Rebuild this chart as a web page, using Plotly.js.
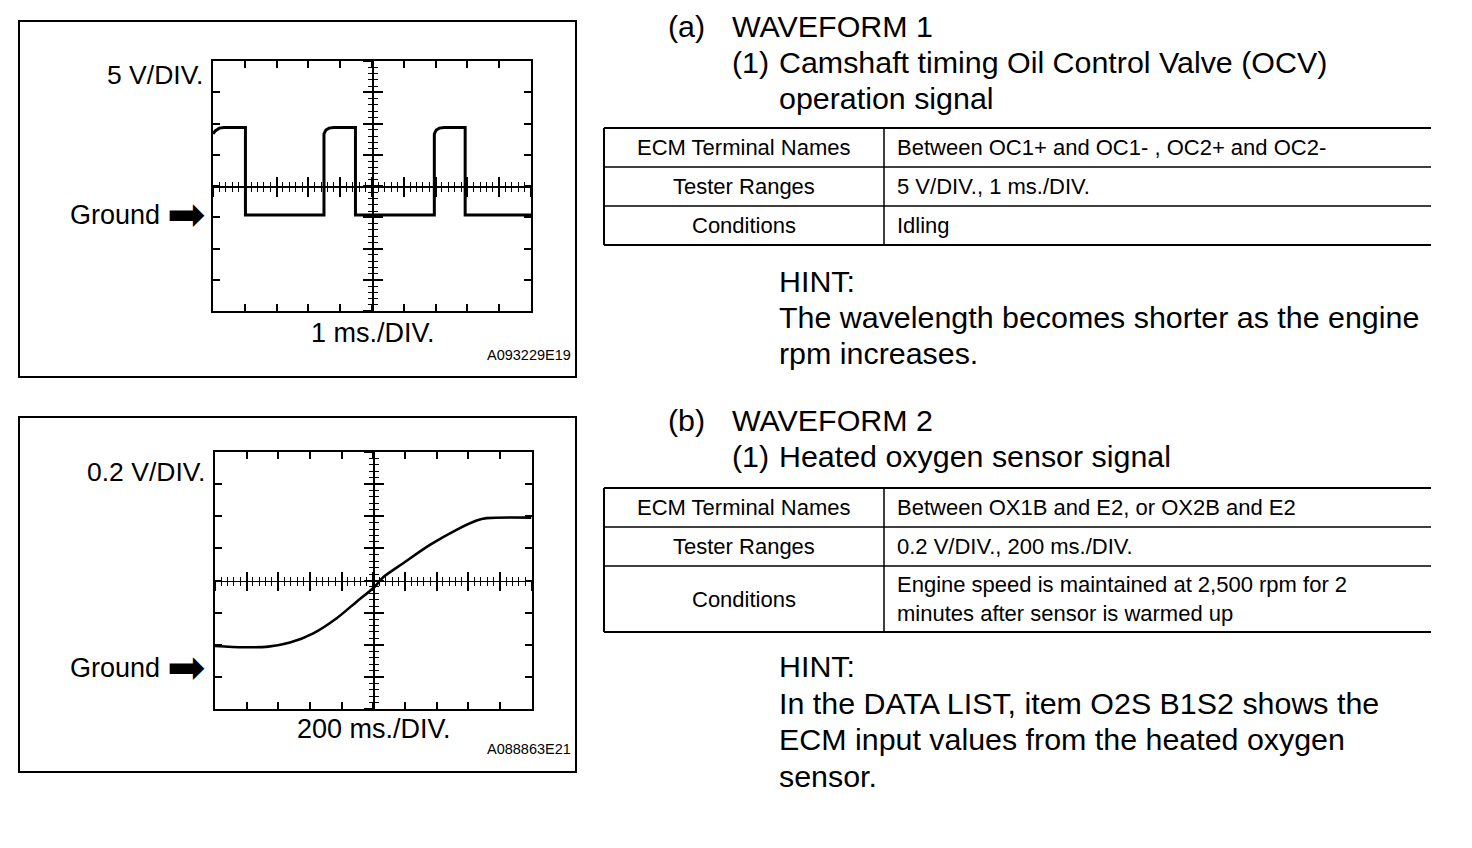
<!DOCTYPE html>
<html>
<head>
<meta charset="utf-8">
<script src="https://cdn.plot.ly/plotly-3.0.1.min.js"></script>
<style>
html,body{margin:0;padding:0;background:#fff;}
#chart{width:1472px;height:848px;}
</style>
</head>
<body>
<div id="chart"></div>
<script>
// ---------- DATA ----------
// Waveform 1: OCV operation signal (time in ms, voltage in V, ground = 0 V)
const wave1Time = [0, 0.08, 0.2, 0.35, 1.02, 1.02, 3.49, 3.49, 3.55, 3.65, 3.8, 4.48, 4.48, 6.96, 6.96, 7.02, 7.12, 7.27, 7.93, 7.93, 10];
const wave1Volt = [13.0, 13.5, 13.9, 14.0, 14.0, 0, 0, 13.0, 13.6, 13.9, 14.0, 14.0, 0, 0, 13.0, 13.6, 13.9, 14.0, 14.0, 0, 0];
// Waveform 2: Heated oxygen sensor signal (time in ms, voltage in V)
const wave2Time = [0, 179, 337, 474, 621, 769, 895, 1006, 1063, 1189, 1358, 1526, 1653, 1716, 2000];
const wave2Volt = [0.137, 0.129, 0.133, 0.158, 0.216, 0.310, 0.413, 0.503, 0.565, 0.652, 0.766, 0.860, 0.918, 0.933, 0.936];

// Scope settings
const scope1 = {vDiv: 5, tDiv: 1, vLabel: '5 V/DIV.', tLabel: '1 ms./DIV.', code: 'A093229E19'};
const scope2 = {vDiv: 0.2, tDiv: 200, vLabel: '0.2 V/DIV.', tLabel: '200 ms./DIV.', code: 'A088863E21'};

// Text content
const heading1 = ['(a)', 'WAVEFORM 1'];
const sub1 = ['(1)', 'Camshaft timing Oil Control Valve (OCV)', 'operation signal'];
const table1Labels = ['ECM Terminal Names', 'Tester Ranges', 'Conditions'];
const table1Values = ['Between OC1+ and OC1- , OC2+ and OC2-', '5 V/DIV., 1 ms./DIV.', 'Idling'];
const hint1 = ['HINT:', 'The wavelength becomes shorter as the engine', 'rpm increases.'];

const heading2 = ['(b)', 'WAVEFORM 2'];
const sub2 = ['(1)', 'Heated oxygen sensor signal'];
const table2Labels = ['ECM Terminal Names', 'Tester Ranges', 'Conditions'];
const table2Values = ['Between OX1B and E2, or OX2B and E2', '0.2 V/DIV., 200 ms./DIV.', 'Engine speed is maintained at 2,500 rpm for 2<br>minutes after sensor is warmed up'];
const hint2 = ['HINT:', 'In the DATA LIST, item O2S B1S2 shows the', 'ECM input values from the heated oxygen', 'sensor.'];

// ---------- LAYOUT HELPERS ----------
const W = 1472, H = 848;
const px = x => x / W;
const py = y => 1 - y / H;
const FONT = 'Liberation Sans, Arial, Helvetica, sans-serif';

function mainAxis(domain, range, dtick, tick0, anchor) {
  return {domain, range, dtick, tick0, anchor, showline: true, linecolor: '#000', linewidth: 2,
    mirror: 'ticks', ticks: 'inside', ticklen: 7, tickwidth: 2, tickcolor: '#000',
    showticklabels: false, showgrid: false, zeroline: false, fixedrange: true};
}
function crossAxis(range, dtick, tick0, minorDtick, overlay, position, dir) {
  return {range, dtick, tick0, overlaying: overlay, anchor: 'free', position,
    showline: true, linecolor: '#000', linewidth: 1.5,
    ticks: dir, ticklen: 9, tickwidth: 2, tickcolor: '#000',
    minor: {ticks: dir, ticklen: 4, tickwidth: 1, dtick: minorDtick, tick0, tickcolor: '#000'},
    showticklabels: false, showgrid: false, zeroline: false, fixedrange: true};
}

// plot boxes (pixels)
const box1 = {l: 213, r: 531, t: 61, b: 311, ground: 215};
const box2 = {l: 215, r: 531.5, t: 452, b: 709, ground: 668};

function yRange(box, vDiv) {
  const div = (box.b - box.t) / 8;
  const top = (box.ground - box.t) / div * vDiv;
  const bot = -(box.b - box.ground) / div * vDiv;
  return [bot, top];
}
const yr1 = yRange(box1, scope1.vDiv);
const yr2 = yRange(box2, scope2.vDiv);
const xr1 = [0, 10 * scope1.tDiv];
const xr2 = [0, 10 * scope2.tDiv];

const xd1 = [px(box1.l), px(box1.r)], yd1 = [py(box1.b), py(box1.t)];
const xd2 = [px(box2.l), px(box2.r)], yd2 = [py(box2.b), py(box2.t)];
const xc1 = (xd1[0] + xd1[1]) / 2, yc1 = (yd1[0] + yd1[1]) / 2;
const xc2 = (xd2[0] + xd2[1]) / 2, yc2 = (yd2[0] + yd2[1]) / 2;

const layout = {
  width: W, height: H, margin: {l: 0, r: 0, t: 0, b: 0},
  paper_bgcolor: '#fff', plot_bgcolor: 'rgba(0,0,0,0)', showlegend: false,
  font: {family: FONT, color: '#000'},
  // chart 1
  xaxis: mainAxis(xd1, xr1, scope1.tDiv, 0, 'y'),
  yaxis: mainAxis(yd1, yr1, scope1.vDiv, yr1[0], 'x'),
  xaxis2: crossAxis(xr1, scope1.tDiv, 0, scope1.tDiv / 5, 'x', yc1, 'inside'),
  xaxis3: crossAxis(xr1, scope1.tDiv, 0, scope1.tDiv / 5, 'x', yc1, 'outside'),
  yaxis2: crossAxis(yr1, scope1.vDiv, yr1[0], scope1.vDiv / 5, 'y', xc1, 'inside'),
  yaxis3: crossAxis(yr1, scope1.vDiv, yr1[0], scope1.vDiv / 5, 'y', xc1, 'outside'),
  // chart 2
  xaxis4: mainAxis(xd2, xr2, scope2.tDiv, 0, 'y4'),
  yaxis4: mainAxis(yd2, yr2, scope2.vDiv, yr2[0], 'x4'),
  xaxis5: crossAxis(xr2, scope2.tDiv, 0, scope2.tDiv / 5, 'x4', yc2, 'inside'),
  xaxis6: crossAxis(xr2, scope2.tDiv, 0, scope2.tDiv / 5, 'x4', yc2, 'outside'),
  yaxis5: crossAxis(yr2, scope2.vDiv, yr2[0], scope2.vDiv / 5, 'y4', xc2, 'inside'),
  yaxis6: crossAxis(yr2, scope2.vDiv, yr2[0], scope2.vDiv / 5, 'y4', xc2, 'outside'),
  shapes: [], annotations: []
};

// outer frames
[[19, 21, 576, 377], [19, 417, 576, 772]].forEach(([x0, y0, x1, y1]) => {
  layout.shapes.push({type: 'rect', xref: 'paper', yref: 'paper', x0: px(x0), x1: px(x1), y0: py(y0), y1: py(y1),
    line: {color: '#000', width: 2}, fillcolor: 'rgba(0,0,0,0)'});
});

function ann(text, x, y, size, xanchor, family) {
  layout.annotations.push({text, x: px(x), y: py(y), xref: 'paper', yref: 'paper', showarrow: false,
    xanchor: xanchor || 'left', yanchor: 'middle', align: xanchor === 'center' ? 'center' : 'left',
    font: {size, family: family || FONT, color: '#000'}});
}

// scope labels
function scopeLabels(sc, box, vy, ty, codeY) {
  ann(sc.vLabel, box.l - 8, vy, 26.5, 'right');
  ann('Ground', 162, box.ground, 27, 'right');
  ann('\u27A1', 208, box.ground - 1, 46, 'right', 'DejaVu Sans');
  ann(sc.tLabel, (box.l + box.r) / 2 + 1, ty, 27, 'center');
  ann(sc.code, 573, codeY, 14.5, 'right');
}
scopeLabels(scope1, box1, 75, 333, 355);
scopeLabels(scope2, box2, 472, 729, 749);

// right text
function hline(x0, x1, y, w) {
  layout.shapes.push({type: 'line', xref: 'paper', yref: 'paper', x0: px(x0), x1: px(x1), y0: py(y), y1: py(y), line: {color: '#000', width: w}});
}
function vline(x, y0, y1, w) {
  layout.shapes.push({type: 'line', xref: 'paper', yref: 'paper', x0: px(x), x1: px(x), y0: py(y0), y1: py(y1), line: {color: '#000', width: w}});
}
function table(labels, values, rows) {
  const L = 604, M = 884, R = 1431;
  rows.forEach((y, i) => hline(L, R, y, (i === 0 || i === rows.length - 1) ? 2 : 1.5));
  vline(L, rows[0], rows[rows.length - 1], 2);
  vline(M, rows[0], rows[rows.length - 1], 1.5);
  labels.forEach((t, i) => {
    const yc = (rows[i] + rows[i + 1]) / 2;
    ann(t, (L + M) / 2, yc, 22, 'center');
    ann(values[i], 895, yc, 22, 'left');
  });
}

const big = 30.4;
ann(heading1[0], 666, 26, big); ann(heading1[1], 730, 26, big);
ann(sub1[0], 730, 62, big); ann(sub1[1], 777, 62, big); ann(sub1[2], 777, 98, big);
table(table1Labels, table1Values, [128, 167, 206, 245]);
hint1.forEach((t, i) => ann(t, 777, 281 + i * 36, big));

ann(heading2[0], 666, 420, big); ann(heading2[1], 730, 420, big);
ann(sub2[0], 730, 456, big); ann(sub2[1], 777, 456, big);
table(table2Labels, table2Values, [488, 527, 566, 632]);
hint2.forEach((t, i) => ann(t, 777, 666 + i * 36.5, big));

// ---------- TRACES ----------
const lineStyle = {color: '#000', width: 3};
const traces = [
  {x: wave1Time, y: wave1Volt, xaxis: 'x', yaxis: 'y', mode: 'lines', line: lineStyle, hoverinfo: 'skip'},
  {x: wave2Time, y: wave2Volt, xaxis: 'x4', yaxis: 'y4', mode: 'lines', line: {color: '#000', width: 2.6, shape: 'spline', smoothing: 0.8}, hoverinfo: 'skip'},
  // empty traces to register the crosshair axes
  {x: [], y: [], xaxis: 'x2', yaxis: 'y', mode: 'lines'},
  {x: [], y: [], xaxis: 'x3', yaxis: 'y', mode: 'lines'},
  {x: [], y: [], xaxis: 'x', yaxis: 'y2', mode: 'lines'},
  {x: [], y: [], xaxis: 'x', yaxis: 'y3', mode: 'lines'},
  {x: [], y: [], xaxis: 'x5', yaxis: 'y4', mode: 'lines'},
  {x: [], y: [], xaxis: 'x6', yaxis: 'y4', mode: 'lines'},
  {x: [], y: [], xaxis: 'x4', yaxis: 'y5', mode: 'lines'},
  {x: [], y: [], xaxis: 'x4', yaxis: 'y6', mode: 'lines'}
];

Plotly.newPlot('chart', traces, layout, {staticPlot: true, displayModeBar: false});
</script>
</body>
</html>
